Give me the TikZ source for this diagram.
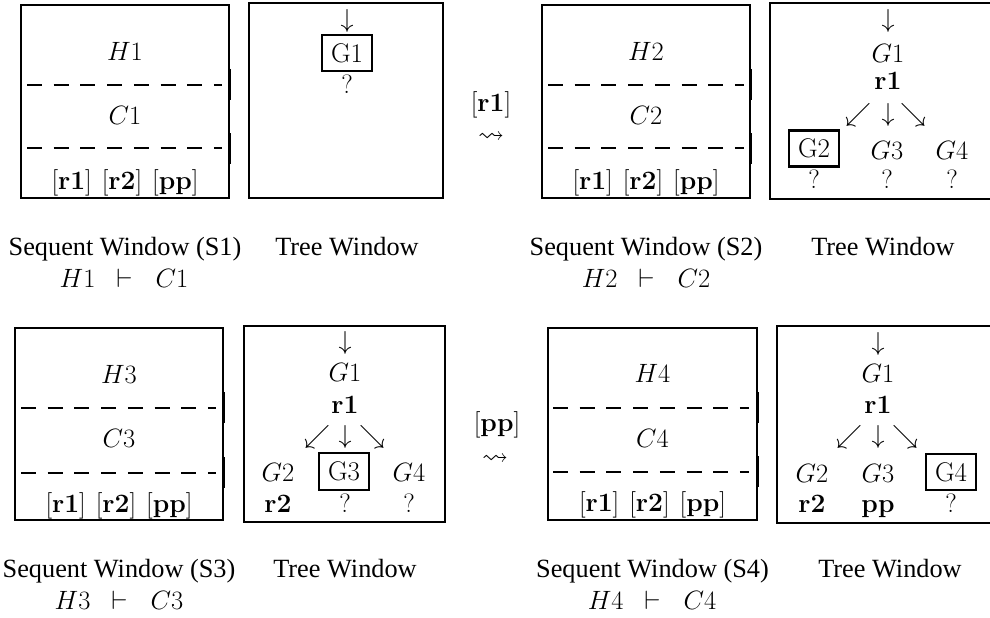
\RequirePackage{fix-cm}
\documentclass[tikz,border=0pt]{standalone}
\usepackage{amssymb}
\usepackage[no-math]{fontspec}
\setmainfont{Liberation Serif}
\newcommand{\rulebar}{$[\mathbf{r1}]$\hspace{10pt}$[\mathbf{r2}]$\hspace{10pt}$[\mathbf{pp}]$}
\begin{document}
\begin{tikzpicture}[x=1pt,y=-1pt,
  win/.style={draw, line width=2.3pt, inner sep=0pt},
  dl/.style={line width=1.2pt, dash pattern=on 15pt off 11.7pt},
  edgebit/.style={line width=2pt},
  m/.style={inner sep=0pt, anchor=base, font=\fontsize{26.5}{30}\selectfont},
  ar/.style={inner sep=0pt, anchor=center, font=\fontsize{26}{30}\selectfont},
  sq/.style={inner sep=0pt, anchor=base, text height=10pt, text depth=0pt, font=\fontsize{26}{30}\selectfont},
  lab/.style={inner sep=0pt, anchor=base, font=\fontsize{26.3}{30}\selectfont},
  gbox/.style={draw, line width=2.8pt, inner sep=0pt, minimum width=50pt, minimum height=36pt, font=\fontsize{27}{30}\selectfont},
]
\useasboundingbox (0,0) rectangle (990,618);

% ---------------- Row 1 ----------------
% Sequent window S1
\node[win, minimum width=208pt, minimum height=193pt] (s1) at (125,101.5) {};
\draw[dl] (27,85) -- (222,85);
\draw[dl] (27,148) -- (222,148);
\draw[edgebit] (230.3,69) -- (230.3,100);
\draw[edgebit] (230.3,133) -- (230.3,164);
\node[m] (s1h) at (125,61) {$H1$};
\node[m] (s1c) at (125,124) {$C1$};
\node[m] (s1r) at (125,189) {\rulebar};

% Tree window T1
\node[win, minimum width=194pt, minimum height=195pt] (t1) at (346,100.5) {};
\node[ar] (t1a) at (347,21) {$\downarrow$};
\node[gbox] (t1g1) at (347,53) {$\mathrm{G1}$};
\node[m] (t1q) at (347,93) {$?$};

% transition 1
\node[m] (tr1) at (491,111) {$[\mathbf{r1}]$};
\node[sq] (tr1s) at (491,142.5) {$\leadsto$};

% Sequent window S2
\node[win, minimum width=208pt, minimum height=193pt] (s2) at (646,101.5) {};
\draw[dl] (548,85) -- (744,85);
\draw[dl] (548,148) -- (744,148);
\draw[edgebit] (751.3,69) -- (751.3,100);
\draw[edgebit] (751.3,133) -- (751.3,164);
\node[m] (s2h) at (646,61) {$H2$};
\node[m] (s2c) at (646,124) {$C2$};
\node[m] (s2r) at (646,189) {\rulebar};

% Tree window T2 (right side cut off)
\draw[win] (990,3) -- (770,3) -- (770,199) -- (990,199);
\node[ar] (t2a) at (888,21) {$\downarrow$};
\node[m] (t2g1) at (888,63) {$G1$};
\node[m] (t2r1) at (888,89) {$\mathbf{r1}$};
\node[ar] (t2sw) at (858,115) {$\swarrow$};
\node[ar] (t2d) at (888,115) {$\downarrow$};
\node[ar] (t2se) at (913,115) {$\searrow$};
\node[gbox] (t2g2) at (814,148.5) {$\mathrm{G2}$};
\node[m] (t2g3) at (887,159) {$G3$};
\node[m] (t2g4) at (952,159) {$G4$};
\node[m] (t2q2) at (814,188) {$?$};
\node[m] (t2q3) at (887,188) {$?$};
\node[m] (t2q4) at (952,188) {$?$};

% labels row 1
\node[lab] (l1a) at (125,255) {Sequent Window (S1)};
\node[lab] (l1b) at (347,255) {Tree Window};
\node[m] (f1) at (124,287) {$H1$\hspace{21pt}$\vdash$\hspace{23pt}$C1$};
\node[lab] (l2a) at (646,255) {Sequent Window (S2)};
\node[lab] (l2b) at (883,255) {Tree Window};
\node[m] (f2) at (646,287) {$H2$\hspace{21pt}$\vdash$\hspace{23pt}$C2$};

% ---------------- Row 2 ----------------
% Sequent window S3
\node[win, minimum width=208pt, minimum height=192pt] (s3) at (119,424) {};
\draw[dl] (21,408) -- (216,408);
\draw[dl] (21,473) -- (216,473);
\draw[edgebit] (224.3,392) -- (224.3,423);
\draw[edgebit] (224.3,457) -- (224.3,488);
\node[m] (s3h) at (119,383) {$H3$};
\node[m] (s3c) at (119,447) {$C3$};
\node[m] (s3r) at (119,512) {\rulebar};

% Tree window T3
\node[win, minimum width=201pt, minimum height=196pt] (t3) at (344.5,424) {};
\node[ar] (t3a) at (345,343) {$\downarrow$};
\node[m] (t3g1) at (345,381) {$G1$};
\node[m] (t3r1) at (345,413) {$\mathbf{r1}$};
\node[ar] (t3sw) at (317,437) {$\swarrow$};
\node[ar] (t3d) at (345,437) {$\downarrow$};
\node[ar] (t3se) at (372,437) {$\searrow$};
\node[m] (t3g2) at (278,481) {$G2$};
\node[gbox, minimum height=37pt] (t3g3) at (344,471.5) {$\mathrm{G3}$};
\node[m] (t3g4) at (409,481) {$G4$};
\node[m] (t3r2) at (278,512) {$\mathbf{r2}$};
\node[m] (t3q3) at (345,512) {$?$};
\node[m] (t3q4) at (409,512) {$?$};

% transition 2
\node[m] (tr2) at (497,431) {$[\mathbf{pp}]$};
\node[sq] (tr2s) at (495,464) {$\leadsto$};

% Sequent window S4
\node[win, minimum width=209pt, minimum height=192pt] (s4) at (652.5,424) {};
\draw[dl] (553,408) -- (749,408);
\draw[dl] (553,472) -- (749,472);
\draw[edgebit] (758.3,392) -- (758.3,423);
\draw[edgebit] (758.3,456) -- (758.3,487);
\node[m] (s4h) at (652.5,382) {$H4$};
\node[m] (s4c) at (652.5,447) {$C4$};
\node[m] (s4r) at (652.5,511) {\rulebar};

% Tree window T4 (right side cut off)
\draw[win] (990,326) -- (777,326) -- (777,523) -- (990,523);
\node[ar] (t4a) at (878,344) {$\downarrow$};
\node[m] (t4g1) at (878,382) {$G1$};
\node[m] (t4r1) at (878,413) {$\mathbf{r1}$};
\node[ar] (t4sw) at (849,437) {$\swarrow$};
\node[ar] (t4d) at (878,437) {$\downarrow$};
\node[ar] (t4se) at (905,437) {$\searrow$};
\node[m] (t4g2) at (812,482) {$G2$};
\node[m] (t4g3) at (878,482) {$G3$};
\node[gbox] (t4g4) at (951,472) {$\mathrm{G4}$};
\node[m] (t4r2) at (812,512) {$\mathbf{r2}$};
\node[m] (t4pp) at (878,512) {$\mathbf{pp}$};
\node[m] (t4q) at (951,512) {$?$};

% labels row 2
\node[lab] (l3a) at (119,577) {Sequent Window (S3)};
\node[lab] (l3b) at (345,577) {Tree Window};
\node[m] (f3) at (119,609) {$H3$\hspace{21pt}$\vdash$\hspace{23pt}$C3$};
\node[lab] (l4a) at (652.5,577) {Sequent Window (S4)};
\node[lab] (l4b) at (890,577) {Tree Window};
\node[m] (f4) at (652,609) {$H4$\hspace{21pt}$\vdash$\hspace{23pt}$C4$};
\end{tikzpicture}
\end{document}
